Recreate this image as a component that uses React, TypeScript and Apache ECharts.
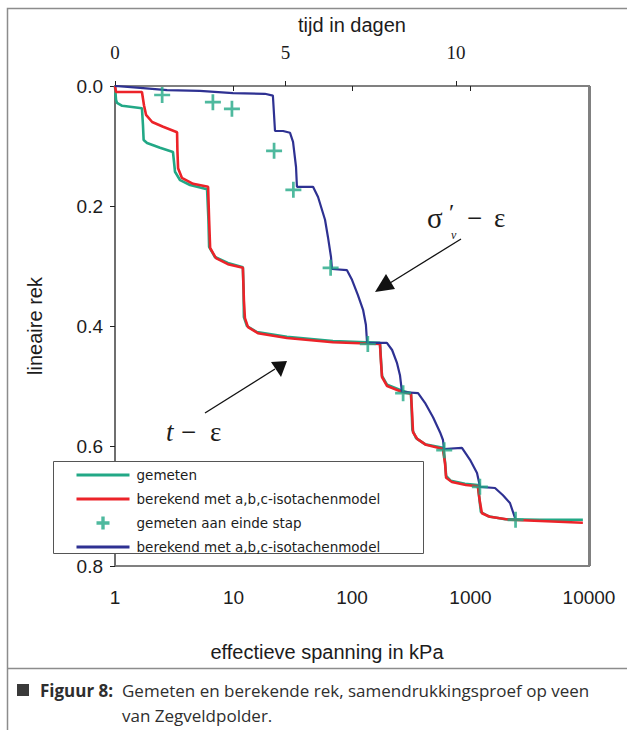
import React, { useEffect, useRef } from "react";
import * as echarts from "echarts";

// t - eps curves (time in days, top axis)
const tGemeten: number[] = [0, 0.03, 0.06, 0.21, 0.5, 0.79, 0.82, 0.84, 0.94, 1.32, 1.7, 1.74, 1.76, 1.91, 2.2, 2.7, 2.74, 2.76, 2.93, 3.31, 3.75, 3.77, 3.78, 3.87, 4.16, 5.04, 6.39, 7.77, 7.8, 7.83, 7.98, 8.42, 8.68, 8.7, 8.72, 8.83, 9.09, 9.62, 9.68, 9.71, 9.85, 10.26, 10.64, 10.69, 10.73, 10.94, 11.44, 12.46, 13.72];
const epsGemeten: number[] = [0, 0.023, 0.028, 0.033, 0.035, 0.037, 0.065, 0.09, 0.095, 0.103, 0.11, 0.132, 0.143, 0.157, 0.165, 0.172, 0.223, 0.268, 0.285, 0.295, 0.302, 0.34, 0.385, 0.4, 0.41, 0.418, 0.425, 0.428, 0.457, 0.483, 0.498, 0.508, 0.512, 0.54, 0.573, 0.587, 0.597, 0.603, 0.627, 0.65, 0.658, 0.663, 0.665, 0.69, 0.71, 0.717, 0.722, 0.723, 0.723];

const tBerekend: number[] = [0, 0.03, 0.79, 0.85, 0.91, 1.09, 1.41, 1.82, 1.83, 1.85, 1.96, 2.29, 2.73, 2.76, 2.79, 2.96, 3.31, 3.75, 3.78, 3.81, 3.9, 4.19, 5.04, 6.39, 7.77, 7.8, 7.83, 7.98, 8.42, 8.68, 8.71, 8.74, 8.86, 9.12, 9.62, 9.68, 9.71, 9.88, 10.29, 10.64, 10.7, 10.76, 10.99, 11.58, 13.72];
const epsBerekend: number[] = [0, 0.01, 0.01, 0.032, 0.048, 0.06, 0.068, 0.077, 0.107, 0.137, 0.153, 0.163, 0.168, 0.223, 0.27, 0.287, 0.297, 0.303, 0.357, 0.387, 0.402, 0.412, 0.42, 0.427, 0.43, 0.46, 0.485, 0.5, 0.51, 0.513, 0.543, 0.577, 0.588, 0.598, 0.605, 0.63, 0.653, 0.66, 0.665, 0.667, 0.693, 0.712, 0.718, 0.723, 0.728];

// sigma'_v - eps (effective stress in kPa, bottom log axis)
const sigmaStap: number[] = [2.5, 6.7, 9.7, 22, 32, 66, 136, 270, 600, 1200, 2400];
const epsStap: number[] = [0.015, 0.027, 0.038, 0.108, 0.173, 0.303, 0.43, 0.512, 0.607, 0.668, 0.723];

const sigmaModel: number[] = [1, 1.63, 2.75, 5.2, 9.9, 18.4, 21.5, 22.4, 26.2, 30, 31.8, 33.7, 34.3, 46.9, 51.7, 59.2, 62.7, 66.5, 67.8, 90.7, 100, 112, 124, 131, 134, 197, 218, 240, 254, 264, 361, 413, 483, 553, 586, 597, 847, 991, 1135, 1203, 1610, 1880, 2153, 2375];
const epsModel: number[] = [0, 0.003, 0.007, 0.008, 0.012, 0.013, 0.016, 0.075, 0.075, 0.078, 0.093, 0.135, 0.168, 0.168, 0.185, 0.223, 0.252, 0.285, 0.305, 0.307, 0.323, 0.348, 0.373, 0.398, 0.428, 0.428, 0.44, 0.462, 0.482, 0.51, 0.512, 0.528, 0.552, 0.577, 0.59, 0.605, 0.603, 0.623, 0.645, 0.668, 0.67, 0.682, 0.695, 0.72];

const seriesNames: string[] = ["gemeten", "berekend_t", "gemeten aan einde stap", "berekend_s"];
const legendLabels: Record<string, string> = {
  gemeten: "gemeten",
  berekend_t: "berekend met a,b,c-isotachenmodel",
  "gemeten aan einde stap": "gemeten aan einde stap",
  berekend_s: "berekend met a,b,c-isotachenmodel",
};

const GREEN = "#22a886";
const RED = "#ec2329";
const BLUE = "#2e3192";
const PLUS = "path://M4.15,0H5.85V4.15H10V5.85H5.85V10H4.15V5.85H0V4.15H4.15Z";
const PLUS_LEGEND = "path://M3.7,0H6.3V3.7H10V6.3H6.3V10H3.7V6.3H0V3.7H3.7Z";

const zip = (a: number[], b: number[]) => a.map((v, i) => [v, b[i]]);

export default function App() {
  const ref = useRef<HTMLDivElement>(null);
  useEffect(() => {
    if (!ref.current) return;
    const chart = echarts.init(ref.current, undefined, { renderer: "svg" });
    const txt = "#1c1c1c";
    const cap = "#2e2e2e";
    const hidden = { opacity: 0 };
    const option: any = {
      animation: false,
      backgroundColor: "#ffffff",
      textStyle: { fontFamily: "Liberation Sans" },
      grid: {
        left: 115, top: 86, width: 474, height: 480,
        show: true, borderColor: "#808080", borderWidth: 2, backgroundColor: "transparent",
      },
      legend: {
        orient: "vertical", left: 53, top: 461, padding: [7, 10, 5, 22],
        itemWidth: 53, itemHeight: 13, itemGap: 10, selectedMode: false, z: 10,
        lineStyle: { width: 3 },
        data: [
          { name: seriesNames[0], itemStyle: hidden },
          { name: seriesNames[1], itemStyle: hidden },
          { name: seriesNames[2], icon: PLUS_LEGEND },
          { name: seriesNames[3], itemStyle: hidden },
        ],
        formatter: (n: string) => legendLabels[n],
        textStyle: { fontFamily: "DejaVu Sans", fontSize: 13.5, color: txt, padding: [0, 0, 0, 2] },
      },
      xAxis: [
        {
          type: "log", logBase: 10, min: 1, max: 10000, position: "bottom",
          name: "effectieve spanning in kPa", nameLocation: "middle", nameGap: 76,
          nameTextStyle: { fontSize: 20, color: txt, fontFamily: "Liberation Sans", padding: [0, 50, 0, 0] },
          axisLine: { lineStyle: { color: "#6f6f6f", width: 2 } },
          axisTick: { length: 5, lineStyle: { color: "#222", width: 1 } },
          axisLabel: { fontSize: 19, color: txt, margin: 22, formatter: (v: number) => String(Math.round(v)) },
          splitLine: { show: false }, minorTick: { show: false },
        },
        {
          type: "value", min: 0, max: 13.9, interval: 5, position: "top",
          name: "tijd in dagen", nameLocation: "middle", nameGap: 51,
          nameTextStyle: { fontSize: 20, color: txt, fontFamily: "Liberation Sans" },
          axisLine: { lineStyle: { color: "#808080", width: 2 } },
          axisTick: { length: 5, lineStyle: { color: "#222", width: 1 } },
          axisLabel: { fontSize: 19, color: txt, margin: 24, fontFamily: "Liberation Serif", showMaxLabel: false },
          splitLine: { show: false },
        },
      ],
      yAxis: {
        type: "value", inverse: true, min: 0, max: 0.8, interval: 0.2,
        name: "lineaire rek", nameLocation: "middle", nameGap: 70, nameRotate: 90,
        nameTextStyle: { fontSize: 20, color: txt, fontFamily: "Liberation Sans" },
        axisLine: { lineStyle: { color: "#6f6f6f", width: 2 } },
        axisTick: { length: 5, lineStyle: { color: "#222", width: 1 } },
        axisLabel: { fontSize: 19, color: txt, margin: 12, formatter: (v: number) => v.toFixed(1) },
        splitLine: { show: false },
      },
      series: [
        {
          name: seriesNames[0], type: "line", xAxisIndex: 1, yAxisIndex: 0,
          data: zip(tGemeten, epsGemeten), showSymbol: false, symbol: "none",
          lineStyle: { color: GREEN, width: 2.6 }, itemStyle: { color: GREEN }, z: 2,
        },
        {
          name: seriesNames[1], type: "line", xAxisIndex: 1, yAxisIndex: 0,
          data: zip(tBerekend, epsBerekend), showSymbol: false, symbol: "none",
          lineStyle: { color: RED, width: 2.6 }, itemStyle: { color: RED }, z: 3,
        },
        {
          name: seriesNames[2], type: "scatter", xAxisIndex: 0, yAxisIndex: 0,
          data: zip(sigmaStap, epsStap), symbol: PLUS, symbolSize: 16, symbolKeepAspect: true,
          itemStyle: { color: GREEN }, z: 5,
        },
        {
          name: seriesNames[3], type: "line", xAxisIndex: 0, yAxisIndex: 0,
          data: zip(sigmaModel, epsModel), showSymbol: false, symbol: "none",
          lineStyle: { color: BLUE, width: 2.2 }, itemStyle: { color: BLUE }, z: 4,
        },
      ],
      graphic: [
        { type: "polyline", z: 1, shape: { points: [[7.5, 730], [7.5, 8.5], [627, 8.5]] }, style: { stroke: "#8c8c8c", lineWidth: 1.5, fill: "none" } },
        { type: "line", z: 1, shape: { x1: 7, y1: 668.5, x2: 627, y2: 668.5 }, style: { stroke: "#8c8c8c", lineWidth: 1.5 } },
        { type: "line", z: 1, shape: { x1: 589.5, y1: 86, x2: 589.5, y2: 566 }, style: { stroke: "#808080", lineWidth: 3 } },
        { type: "rect", z: 3, shape: { x: 53.5, y: 461.5, width: 370, height: 92 }, style: { fill: "#ffffff", stroke: "#555555", lineWidth: 1 } },
        // annotations
        { type: "text", z: 6, x: 427, y: 218, style: { text: "σ", fontFamily: "Liberation Serif", fontSize: 29, fill: txt, textVerticalAlign: "middle" } },
        { type: "text", z: 6, x: 449, y: 212, style: { text: "′", fontFamily: "Liberation Serif", fontSize: 24, fill: txt, textVerticalAlign: "middle" } },
        { type: "text", z: 6, x: 451, y: 235, style: { text: "v", fontFamily: "Liberation Serif", fontStyle: "italic", fontSize: 12, fill: txt, textVerticalAlign: "middle" } },
        { type: "text", z: 6, x: 467, y: 218, style: { text: "−", fontFamily: "Liberation Serif", fontSize: 27, fill: txt, textVerticalAlign: "middle" } },
        { type: "text", z: 6, x: 494, y: 218, style: { text: "ε", fontFamily: "Liberation Serif", fontSize: 27, fill: txt, textVerticalAlign: "middle" } },
        { type: "text", z: 6, x: 166, y: 432, style: { text: "t", fontFamily: "Liberation Serif", fontStyle: "italic", fontSize: 27, fill: txt, textVerticalAlign: "middle" } },
        { type: "text", z: 6, x: 181, y: 432, style: { text: "−", fontFamily: "Liberation Serif", fontSize: 27, fill: txt, textVerticalAlign: "middle" } },
        { type: "text", z: 6, x: 210, y: 432, style: { text: "ε", fontFamily: "Liberation Serif", fontSize: 27, fill: txt, textVerticalAlign: "middle" } },
        { type: "line", z: 6, shape: { x1: 461, y1: 239, x2: 390, y2: 283 }, style: { stroke: "#111", lineWidth: 1.3 } },
        { type: "polygon", z: 6, shape: { points: [[375, 292], [395, 289], [386, 274]] }, style: { fill: "#111" } },
        { type: "line", z: 6, shape: { x1: 205, y1: 413, x2: 275, y2: 369 }, style: { stroke: "#111", lineWidth: 1.3 } },
        { type: "polygon", z: 6, shape: { points: [[287, 361], [271, 362], [281, 377]] }, style: { fill: "#111" } },
        // caption
        { type: "rect", z: 6, shape: { x: 17, y: 684, width: 12, height: 12 }, style: { fill: "#3a3a3a" } },
        { type: "text", z: 6, x: 40, y: 690, style: { text: "Figuur 8:", fontFamily: "Open Sans", fontWeight: "bold", fontSize: 17, fill: cap, textVerticalAlign: "middle" } },
        { type: "text", z: 6, x: 122, y: 690, style: { text: "Gemeten en berekende rek, samendrukkingsproef op veen", fontFamily: "Open Sans", fontSize: 17, fill: cap, textVerticalAlign: "middle" } },
        { type: "text", z: 6, x: 122, y: 715, style: { text: "van Zegveldpolder.", fontFamily: "Open Sans", fontSize: 17, fill: cap, textVerticalAlign: "middle" } },
      ],
    };
    chart.setOption(option);
    return () => chart.dispose();
  }, []);
  return (
    <div
      ref={ref}
      style={{ position: "absolute", left: 0, top: 0, width: 627, height: 730, background: "#fff" }}
    />
  );
}
